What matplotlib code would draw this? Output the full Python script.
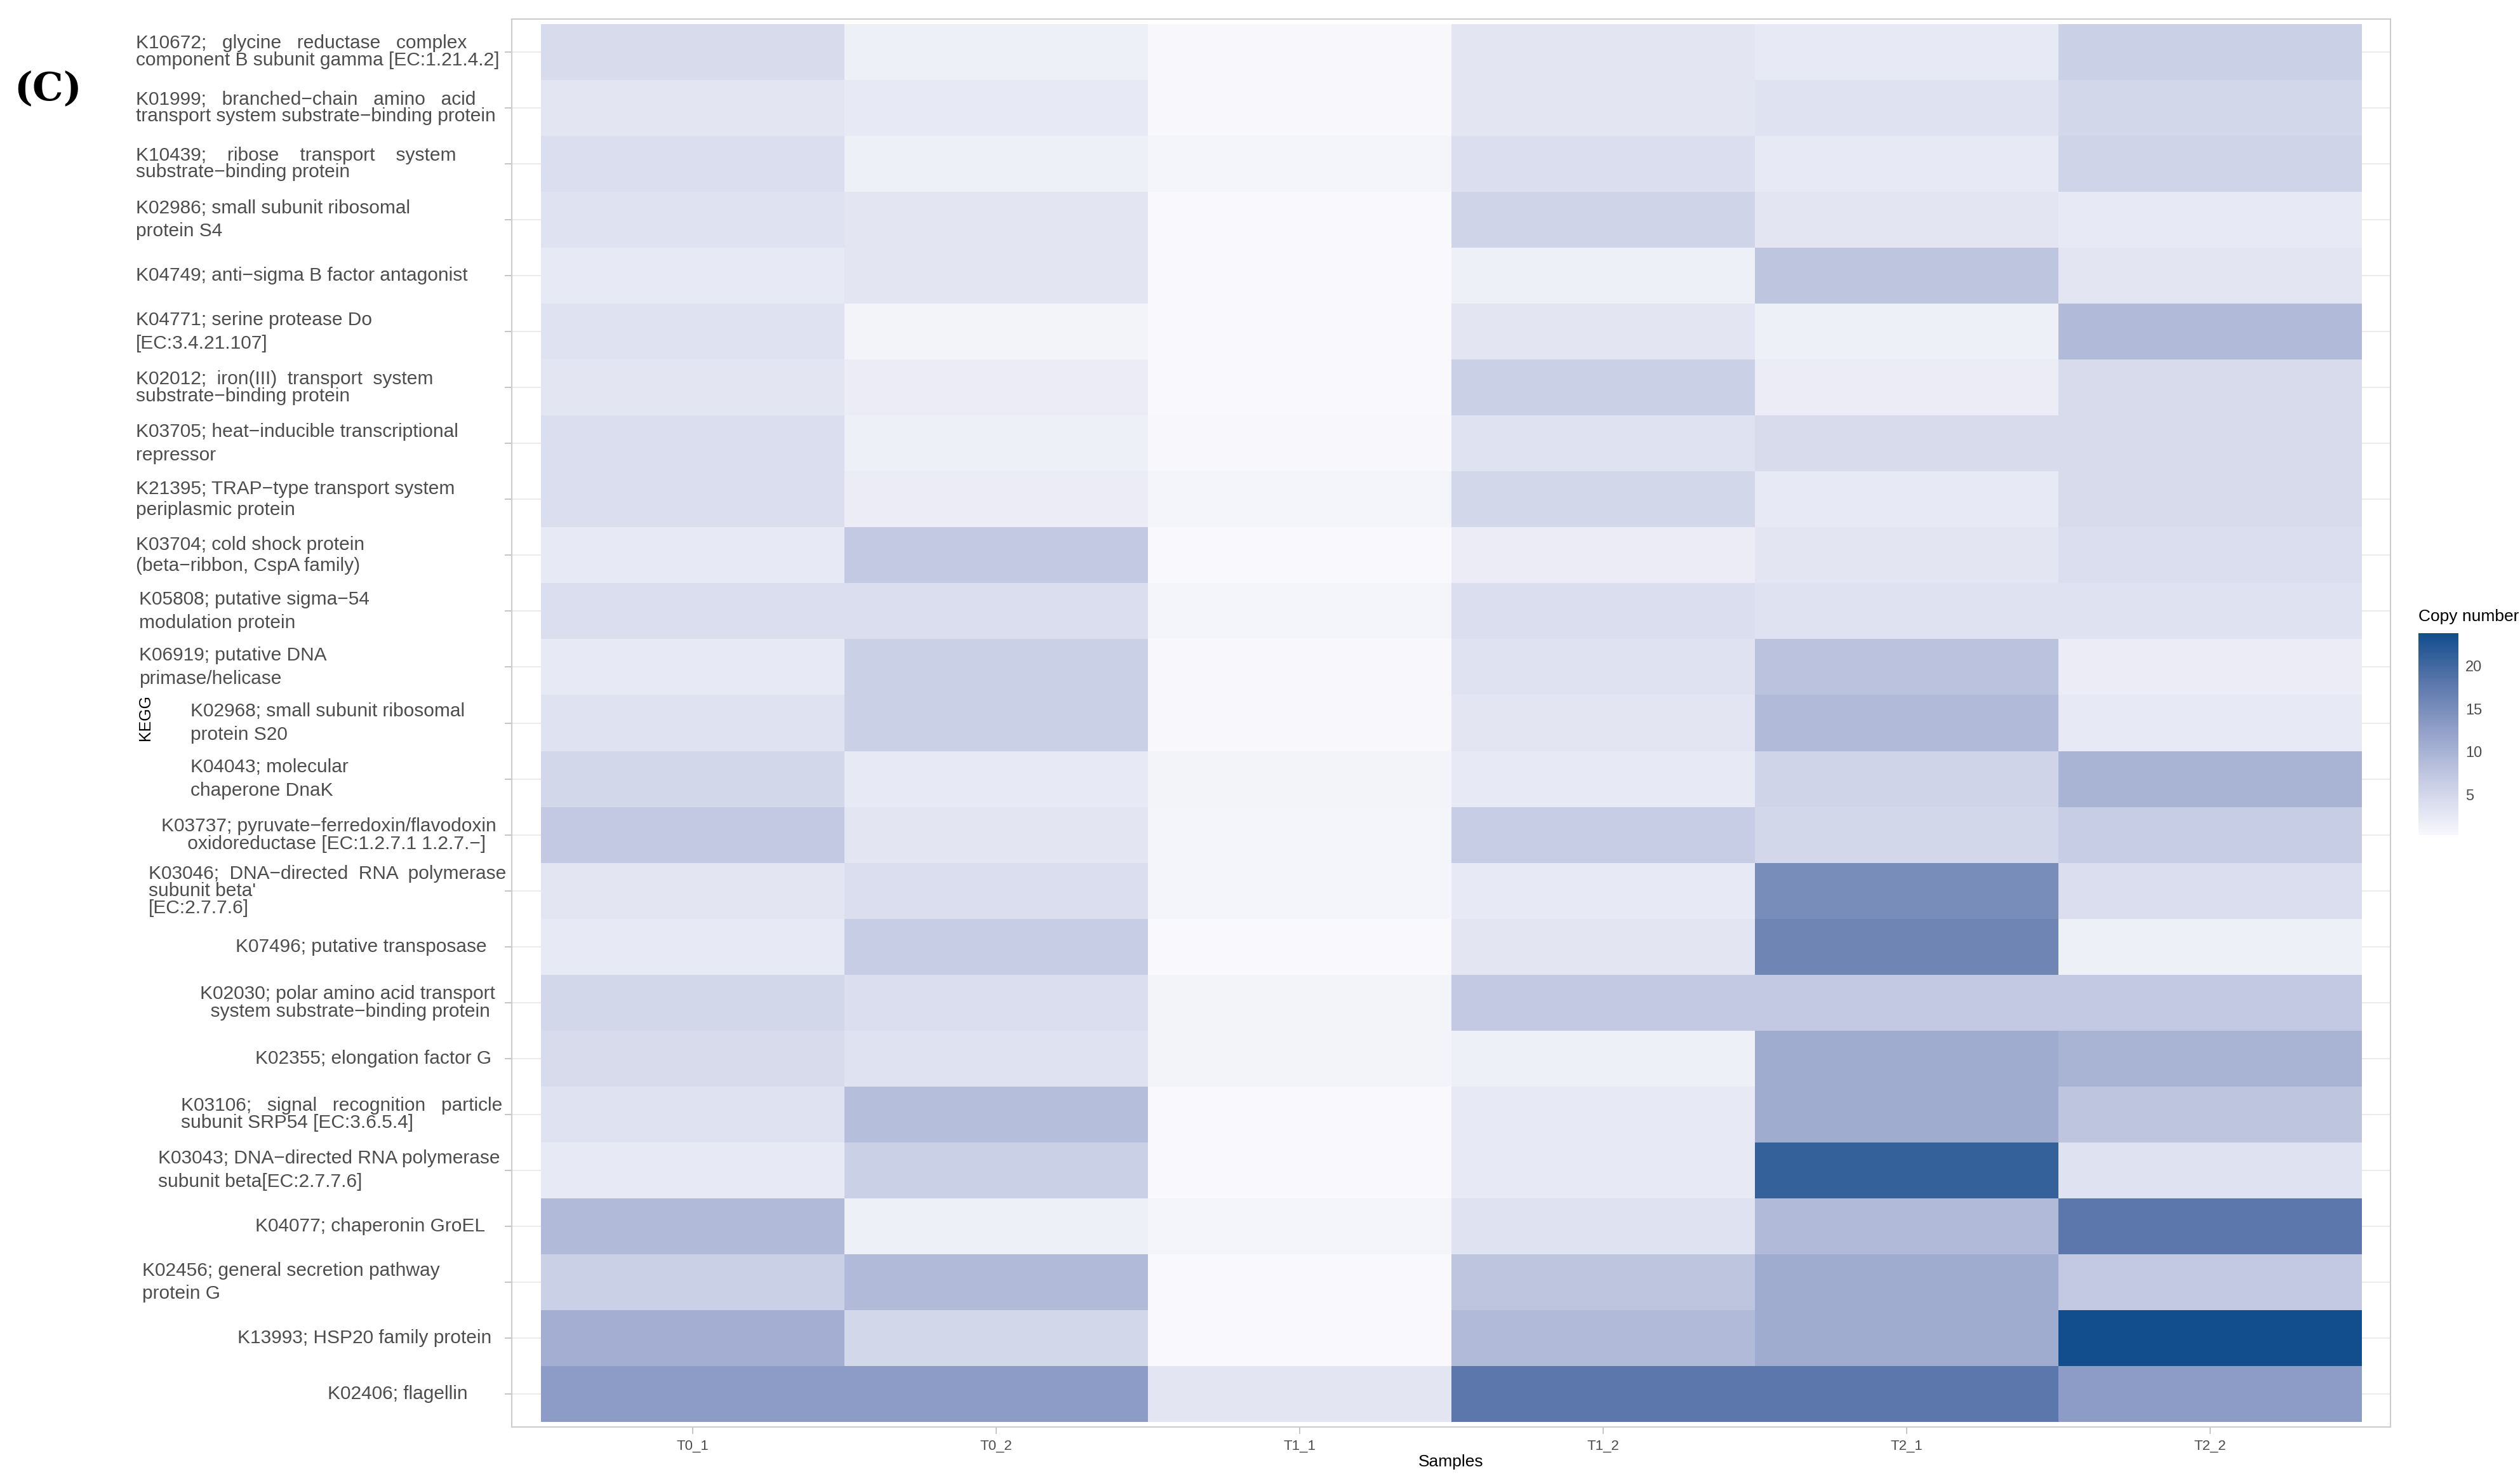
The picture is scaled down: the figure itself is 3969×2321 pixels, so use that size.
import numpy as np
import matplotlib
matplotlib.use("Agg")
import matplotlib.pyplot as plt
from matplotlib.colors import LinearSegmentedColormap

samples = ["T0_1", "T0_2", "T1_1", "T1_2", "T2_1", "T2_2"]

kegg_labels = [
    "K10672;   glycine   reductase   complex\ncomponent B subunit gamma [EC:1.21.4.2]",
    "K01999;   branched\u2212chain   amino   acid\ntransport system substrate\u2212binding protein",
    "K10439;    ribose    transport    system\nsubstrate\u2212binding protein",
    "K02986; small subunit ribosomal\nprotein S4",
    "K04749; anti\u2212sigma B factor antagonist",
    "K04771; serine protease Do\n[EC:3.4.21.107]",
    "K02012;  iron(III)  transport  system\nsubstrate\u2212binding protein",
    "K03705; heat\u2212inducible transcriptional\nrepressor",
    "K21395; TRAP\u2212type transport system\nperiplasmic protein",
    "K03704; cold shock protein\n(beta\u2212ribbon, CspA family)",
    "K05808; putative sigma\u221254\nmodulation protein",
    "K06919; putative DNA\nprimase/helicase",
    "K02968; small subunit ribosomal\nprotein S20",
    "K04043; molecular\nchaperone DnaK",
    "K03737; pyruvate\u2212ferredoxin/flavodoxin\n     oxidoreductase [EC:1.2.7.1 1.2.7.\u2212]",
    "K03046;  DNA\u2212directed  RNA  polymerase\nsubunit beta'\n[EC:2.7.7.6]",
    "K07496; putative transposase",
    "K02030; polar amino acid transport\n  system substrate\u2212binding protein",
    "K02355; elongation factor G",
    "K03106;   signal   recognition   particle\nsubunit SRP54 [EC:3.6.5.4]",
    "K03043; DNA\u2212directed RNA polymerase\nsubunit beta[EC:2.7.7.6]",
    "K04077; chaperonin GroEL",
    "K02456; general secretion pathway\nprotein G",
    "K13993; HSP20 family protein",
    "K02406; flagellin",
]

# copy number, rows top to bottom, columns as samples
copy_number = np.array([
    [4.5, 1.5, 0.5, 3.0, 2.5, 6.0],
    [3.0, 2.5, 0.5, 3.0, 3.5, 5.0],
    [4.0, 1.5, 0.8, 4.0, 2.5, 5.5],
    [3.5, 3.0, 0.3, 5.5, 3.0, 2.5],
    [2.5, 3.0, 0.3, 1.5, 7.5, 3.0],
    [3.5, 1.0, 0.3, 3.0, 1.5, 9.0],
    [3.0, 2.0, 0.3, 6.0, 2.0, 4.5],
    [4.0, 1.5, 0.5, 3.5, 4.5, 4.5],
    [4.0, 2.0, 0.8, 5.0, 2.5, 4.5],
    [2.5, 7.0, 0.3, 2.0, 3.0, 4.0],
    [4.0, 4.0, 0.8, 4.0, 3.5, 3.5],
    [2.5, 6.0, 0.5, 3.5, 8.0, 2.0],
    [3.5, 6.0, 0.5, 3.0, 9.0, 2.5],
    [5.0, 2.5, 1.0, 2.5, 5.5, 10.0],
    [7.0, 3.0, 0.8, 6.5, 5.0, 6.5],
    [3.0, 4.0, 0.8, 2.5, 15.0, 4.0],
    [2.5, 6.5, 0.3, 3.0, 16.0, 1.5],
    [5.0, 4.0, 1.0, 7.0, 7.0, 7.0],
    [4.5, 3.5, 1.0, 1.5, 11.0, 10.0],
    [3.5, 8.5, 0.3, 2.5, 11.0, 7.5],
    [2.5, 6.0, 0.3, 2.5, 21.0, 3.5],
    [9.0, 1.5, 0.8, 3.5, 9.0, 18.0],
    [6.0, 9.0, 0.3, 7.5, 11.0, 7.0],
    [10.5, 5.0, 0.3, 9.0, 11.0, 24.0],
    [13.0, 13.0, 3.0, 18.0, 18.0, 13.0],
])

# left edge of each label (pixels in 3969-wide figure), mimicking the odd justification
label_x = [214, 214, 214, 214, 214, 214, 214, 214, 214, 214, 219, 219, 300, 300, 254,
           234, 371, 315, 402, 285, 249, 402, 224, 374, 516]
# line spacing per label: tight for the justified ones
label_ls = [0.95, 0.95, 0.95, 1.4, 1.4, 1.4, 0.95, 1.4, 1.2, 1.2, 1.4, 1.4, 1.4, 1.4, 1.0,
            0.95, 1.4, 1.0, 1.4, 0.95, 1.4, 1.4, 1.4, 1.4, 1.4]

W, H = 3969, 2321
fig = plt.figure(figsize=(W / 100, H / 100), dpi=100)
plt.rcParams['font.family'] = ['Liberation Sans', 'DejaVu Sans']

cmap = LinearSegmentedColormap.from_list("cn", ["#f8f8fd", "#c9cfe5", "#97a3cb", "#5c78ab", "#124d8d"])

ax = fig.add_axes([806 / W, 1 - 2247 / H, (3765 - 806) / W, (2247 - 30) / H])
n_rows, n_cols = copy_number.shape
mesh = ax.pcolormesh(np.arange(n_cols + 1) - 0.5, np.arange(n_rows + 1) - 0.5, copy_number,
                     cmap=cmap, vmin=0.3, vmax=23.8, zorder=2)
ax.set_xlim(-0.596, n_cols - 0.5 + 0.094)
ax.set_ylim(n_rows - 0.5 + 0.09, -0.5 - 0.09)
ax.set_yticks(np.arange(n_rows))
ax.set_yticklabels([])
ax.set_xticks(np.arange(n_cols))
ax.set_xticklabels(samples, fontsize=16, color="#4d4d4d")
ax.tick_params(colors="#bbbbbb", length=8, width=1.2)
ax.tick_params(axis="x", labelcolor="#4d4d4d", pad=6)
ax.grid(axis="y", color="#ebebeb", lw=1.5, zorder=0)
for s in ax.spines.values():
    s.set_color("#cccccc")
    s.set_linewidth(1.5)
ax.set_xlabel("Samples", fontsize=19, labelpad=2)

# row labels
for i, lab in enumerate(kegg_labels):
    yd = ax.transData.transform((0, i))[1]
    fig.text(label_x[i] / W, yd / H, lab, ha="left", va="center", fontsize=21.5,
             color="#4d4d4d", linespacing=label_ls[i])

fig.text(229 / W, 1 - 1130 / H, "KEGG", rotation=90, ha="center", va="center", fontsize=18)
fig.text(22 / W, 1 - 140 / H, "(C)", ha="left", va="center", fontsize=44,
         family="DejaVu Serif", fontweight="semibold")

cax = fig.add_axes([3809 / W, 1 - 1315 / H, 63 / W, (1315 - 997) / H])
cb = fig.colorbar(mesh, cax=cax, ticks=[5, 10, 15, 20])
cb.outline.set_visible(False)
cax.tick_params(length=0, labelsize=17, labelcolor="#4d4d4d", pad=8)
cax.set_title("Copy number", fontsize=19, loc="left", pad=14)

fig.savefig("out.png", dpi=100)
